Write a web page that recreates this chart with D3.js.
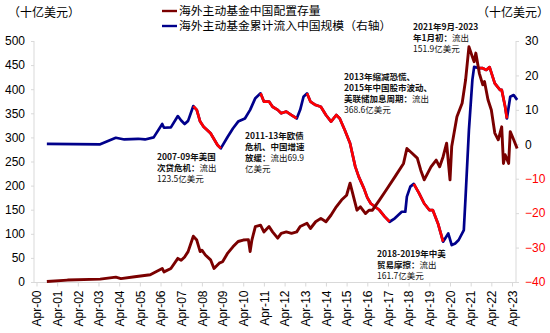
<!DOCTYPE html>
<html><head><meta charset="utf-8">
<script src="https://cdn.jsdelivr.net/npm/d3@7"></script>
<style>
html,body{margin:0;padding:0;background:#fff;}
text{font-family:"Liberation Sans",Arial,"Noto Sans CJK SC",sans-serif;}
.cjk{font-family:"Noto Sans CJK SC","Liberation Sans",sans-serif;}
</style></head>
<body><svg id="c" width="550" height="333"></svg>
<script>
// ---- data ----
const stockDates = ["2000-10","2001-10","2003-05","2004-02","2004-05","2005-01","2005-10","2006-05","2006-06","2006-10","2007-02","2007-04","2007-06","2007-08","2007-11","2008-01","2008-03","2008-04","2008-06","2008-09","2008-11","2009-02","2009-04","2009-07","2009-10","2010-01","2010-04","2010-07","2010-08","2010-09","2010-11","2011-02","2011-04","2011-07","2011-09","2011-12","2012-02","2012-05","2012-08","2012-11","2013-01","2013-05","2013-07","2013-10","2014-01","2014-04","2014-07","2014-10","2015-01","2015-04","2015-06","2015-08","2015-10","2015-12","2016-03","2016-05","2016-07","2016-11","2017-03","2017-08","2018-01","2018-03","2018-06","2018-09","2018-11","2019-01","2019-05","2019-08","2019-10","2019-12","2020-02","2020-04","2020-05","2020-08","2020-11","2021-01","2021-03","2021-05","2021-06","2021-07","2021-09","2021-11","2021-12","2022-02","2022-04","2022-06","2022-08","2022-10","2022-11","2022-12","2023-02","2023-03","2023-05","2023-07"];
const stockValues = [1,4,6,10,7,11,15,28,21,28,49,45,52,63,95,87,63,66,56,46,28,39,42,60,73,84,87,88,63,87,115,118,104,115,104,91,101,104,101,104,115,122,111,125,132,125,139,156,170,180,205,177,149,156,142,149,149,170,191,218,246,277,267,257,232,212,239,253,239,260,288,212,281,343,371,419,488,467,457,475,433,409,416,378,357,309,295,322,246,264,246,312,295,277];

const flowDates = ["2000-10","2003-05","2004-02","2004-07","2005-03","2005-07","2005-12","2006-05","2006-06","2006-10","2007-02","2007-04","2007-06","2007-08","2007-11","2008-01","2008-03","2008-05","2008-09","2009-01","2009-03","2009-07","2009-10","2010-01","2010-05","2010-08","2010-11","2011-02","2011-04","2011-07","2011-09","2011-12","2012-02","2012-05","2012-08","2012-11","2013-01","2013-03","2013-05","2013-07","2013-10","2014-01","2014-04","2014-07","2014-10","2014-12","2015-03","2015-06","2015-09","2015-11","2016-02","2016-04","2016-06","2016-11","2017-02","2017-05","2017-08","2017-12","2018-02","2018-03","2018-05","2018-07","2018-10","2019-01","2019-04","2019-06","2019-09","2019-12","2020-03","2020-05","2020-07","2020-09","2020-12","2021-01","2021-03","2021-05","2021-06","2021-09","2021-11","2022-01","2022-03","2022-06","2022-09","2022-10","2022-12","2023-01","2023-03","2023-05","2023-07"];
const flowValues = [0.1,0,1.9,1.4,1.6,1.4,2.0,5.9,4.8,4.9,8.2,6.9,5.9,6.8,11.1,10.0,6.6,5.1,3.2,-0.2,-1.2,2.2,4.6,6.6,7.5,10.0,13.4,14.8,12.4,12.4,10.9,10.0,9.0,9.5,8.5,7.5,10.0,13.8,14.8,12.4,11.4,10.9,8.5,6.6,8.5,7.5,4.1,0.3,-6.5,-9.4,-12.8,-15.5,-17.2,-19.1,-21.0,-22.5,-21.5,-19.6,-19.6,-15.2,-12.3,-11.5,-14.2,-17.2,-19.1,-19.1,-23.0,-28.3,-25.9,-29.3,-28.8,-27.8,-24.9,-15.2,4.1,18.7,22.5,22.1,22.1,21.6,22.4,17.7,15.8,15.8,10.9,7.5,13.8,14.3,12.9];

const outflowStarts = ["2007-11","2011-02","2013-05","2018-07","2021-09"];
const outflowEnds   = ["2009-03","2012-11","2017-05","2019-12","2023-01"];

const xTickLabels = ["Apr-00","Apr-01","Apr-02","Apr-03","Apr-04","Apr-05","Apr-06","Apr-07","Apr-08","Apr-09","Apr-10","Apr-11","Apr-12","Apr-13","Apr-14","Apr-15","Apr-16","Apr-17","Apr-18","Apr-19","Apr-20","Apr-21","Apr-22","Apr-23"];
const leftTicks = [0,50,100,150,200,250,300,350,400,450,500];
const rightTicks = [-40,-30,-20,-10,0,10,20,30];

const legendLabels = ["海外主动基金中国配置存量","海外主动基金累计流入中国规模（右轴）"];
const unitLabel = "（十亿美元）";
const annotations = [
  {x:157,y:157,lines:[[["2007-09年美国",1]],[["次贷危机：",1],["流出",0]],[["123.5亿美元",0]]]},
  {x:245,y:136,lines:[[["2011-13年欧债",1]],[["危机、中国增速",1]],[["放缓：",1],["流出69.9",0]],[["亿美元",0]]]},
  {x:344,y:77,lines:[[["2013年缩减恐慌、",1]],[["2015年中国股市波动、",1]],[["美联储加息周期：",1],["流出",0]],[["368.6亿美元",0]]]},
  {x:377,y:254,lines:[[["2018-2019年中美",1]],[["贸易摩擦：",1],["流出",0]],[["161.7亿美元",0]]]},
  {x:413,y:27,lines:[[["2021年9月-2023",1]],[["年1月初：",1],["流出",0]],[["151.9亿美元",0]]]}
];

// ---- chart ----
const parse = d3.timeParse("%Y-%m");
const svg = d3.select("#c");
const x = d3.scaleTime().domain([new Date(2000,3,1), new Date(2023,3,1)]).range([36.5, 512]);
const yL = d3.scaleLinear().domain([0,500]).range([282,41]);
const yR = d3.scaleLinear().domain([-40,30]).range([282,41]);

const stock = stockDates.map((d,i)=>({d:parse(d),v:stockValues[i]}));
const flow = flowDates.map((d,i)=>({d:parse(d),v:flowValues[i]}));

const grey = "#d9d9d9";
svg.append("line").attr("x1",34).attr("x2",34).attr("y1",41).attr("y2",282).attr("stroke",grey);
svg.append("line").attr("x1",516).attr("x2",516).attr("y1",41).attr("y2",282).attr("stroke",grey);
svg.append("line").attr("x1",34).attr("x2",516).attr("y1",282.5).attr("y2",282.5).attr("stroke",grey);

const gL = svg.append("g").attr("transform","translate(34,0)")
  .call(d3.axisLeft(yL).tickValues(leftTicks).tickSize(3).tickPadding(6));
gL.select(".domain").remove();
gL.selectAll(".tick line").attr("stroke",grey);
gL.selectAll(".tick text").attr("font-size",12).attr("fill","#000").attr("font-family","Liberation Sans, Arial");

const gR = svg.append("g").attr("transform","translate(516,0)")
  .call(d3.axisRight(yR).tickValues(rightTicks).tickSize(3).tickPadding(6).tickFormat(d3.format("d")));
gR.select(".domain").remove();
gR.selectAll(".tick line").attr("stroke",grey);
gR.selectAll(".tick text").attr("font-size",12).attr("fill",d=>d<0?"#ff0000":"#000").attr("font-family","Liberation Sans, Arial");

const xTicks = xTickLabels.map((s,i)=>new Date(2000+i,3,1));
const gX = svg.append("g").attr("transform","translate(0,282.5)")
  .call(d3.axisBottom(x).tickValues(xTicks).tickSize(4).tickFormat((d,i)=>xTickLabels[i]));
gX.select(".domain").remove();
gX.selectAll(".tick line").attr("stroke",grey);
gX.selectAll(".tick text").attr("font-size",12).attr("fill","#000")
  .attr("font-family","Liberation Sans, Arial")
  .attr("transform","rotate(-90)").attr("text-anchor","end")
  .attr("x",-8).attr("y",0).attr("dy","0.35em");

const lineR = d3.line().x(d=>x(d.d)).y(d=>yR(d.v));
const lineL = d3.line().x(d=>x(d.d)).y(d=>yL(d.v));
svg.append("path").datum(flow).attr("d",lineR).attr("fill","none").attr("stroke","#00008b").attr("stroke-width",2.7).attr("stroke-linejoin","round");
outflowStarts.forEach((s,i)=>{
  const a=parse(s), b=parse(outflowEnds[i]);
  const seg = flow.filter(p=>p.d>=a && p.d<=b);
  svg.append("path").datum(seg).attr("d",lineR).attr("fill","none").attr("stroke","#ff0000").attr("stroke-width",2.7).attr("stroke-linejoin","round");
});
svg.append("path").datum(stock).attr("d",lineL).attr("fill","none").attr("stroke","#7a0000").attr("stroke-width",2.9).attr("stroke-linejoin","round");

svg.append("text").attr("class","cjk").attr("x",8).attr("y",17).attr("font-size",12).attr("fill","#000").text(unitLabel);
svg.append("text").attr("class","cjk").attr("x",477).attr("y",17).attr("font-size",12).attr("fill","#000").text(unitLabel);

const legColors = ["#7a0000","#00008b"];
legendLabels.forEach((t,i)=>{
  const yy = 11 + i*15;
  svg.append("line").attr("x1",162).attr("x2",177).attr("y1",yy).attr("y2",yy).attr("stroke",legColors[i]).attr("stroke-width",2.4);
  svg.append("text").attr("class","cjk").attr("x",179).attr("y",yy).attr("dy","0.36em").attr("font-size",11.8).attr("fill","#000").text(t);
});

annotations.forEach(a=>{
  a.lines.forEach((ln,j)=>{
    const t = svg.append("text").attr("class","cjk").attr("x",a.x).attr("y",a.y+j*11).attr("dy","0.36em").attr("font-size",8.5).attr("fill","#111");
    ln.forEach(([s,b])=>t.append("tspan").attr("font-weight",b?"bold":"normal").text(s));
  });
});
</script></body></html>
